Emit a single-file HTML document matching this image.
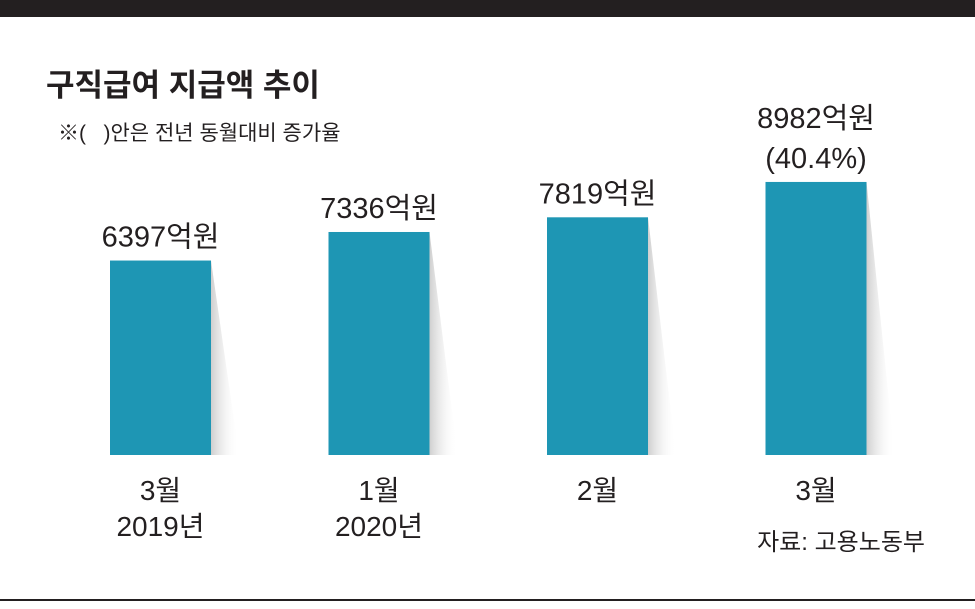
<!DOCTYPE html>
<html><head><meta charset="utf-8"><style>
body{margin:0;background:#fff;}
svg text{font-family:"Liberation Sans","Noto Sans CJK KR",sans-serif;fill:#231f20;}
</style></head><body>
<svg width="975" height="604" viewBox="0 0 975 604">
<defs>
<linearGradient id="sh" x1="0" y1="0" x2="1" y2="0">
<stop offset="0" stop-color="#cfcfcf"/><stop offset="1" stop-color="#ffffff" stop-opacity="0"/>
</linearGradient>
</defs>
<rect x="0" y="0" width="975" height="17" fill="#231f20"/>
<rect x="0" y="599" width="975" height="2" fill="#231f20"/>
<text x="46" y="96" font-size="31" font-weight="bold">구직급여 지급액 추이</text>
<text x="58" y="140" font-size="21">※(&#160;&#160;&#160;)안은 전년 동월대비 증가율</text>
<text x="925" y="550" font-size="24" text-anchor="end">자료: 고용노동부</text>
<g id="bars"></g>
</svg>
<script>
const categories=["3월","1월","2월","3월"];
const years=["2019년","2020년","",""];
const values=[6397,7336,7819,8982];
const valueLabels=["6397억원","7336억원","7819억원","8982억원"];
const growth=["","","","(40.4%)"];
const base=455, k=0.0304, x0=110, step=218.5, bw=101;
const g=document.getElementById('bars');
const NS='http://www.w3.org/2000/svg';
function mk(t,a){const e=document.createElementNS(NS,t);for(const n in a)e.setAttribute(n,a[n]);g.appendChild(e);return e;}
values.forEach((v,i)=>{
 const x=x0+i*step, h=v*k, top=base-h, cx=x+bw/2;
 const s=mk('polygon',{points:`${x+bw},${top} ${x+bw+28},${base} ${x+bw},${base}`,fill:'url(#sh)'});
 
 
 const r=mk('rect',{x:x,y:top,width:bw,height:h,fill:'#1e96b4'});
 
 
 let ly=top-14;
 if(growth[i]){const t2=mk('text',{x:cx,y:ly,'font-size':29,'text-anchor':'middle'});t2.textContent=growth[i];
 
 
 ly-=40;}
 const t=mk('text',{x:cx,y:ly,'font-size':29,'text-anchor':'middle'});t.textContent=valueLabels[i];
 
 
 const c=mk('text',{x:cx,y:500,'font-size':28,'text-anchor':'middle'});c.textContent=categories[i];
 
 
 if(years[i]){const y=mk('text',{x:cx,y:536,'font-size':28,'text-anchor':'middle'});y.textContent=years[i];
 
 }
});
</script>
</body></html>
